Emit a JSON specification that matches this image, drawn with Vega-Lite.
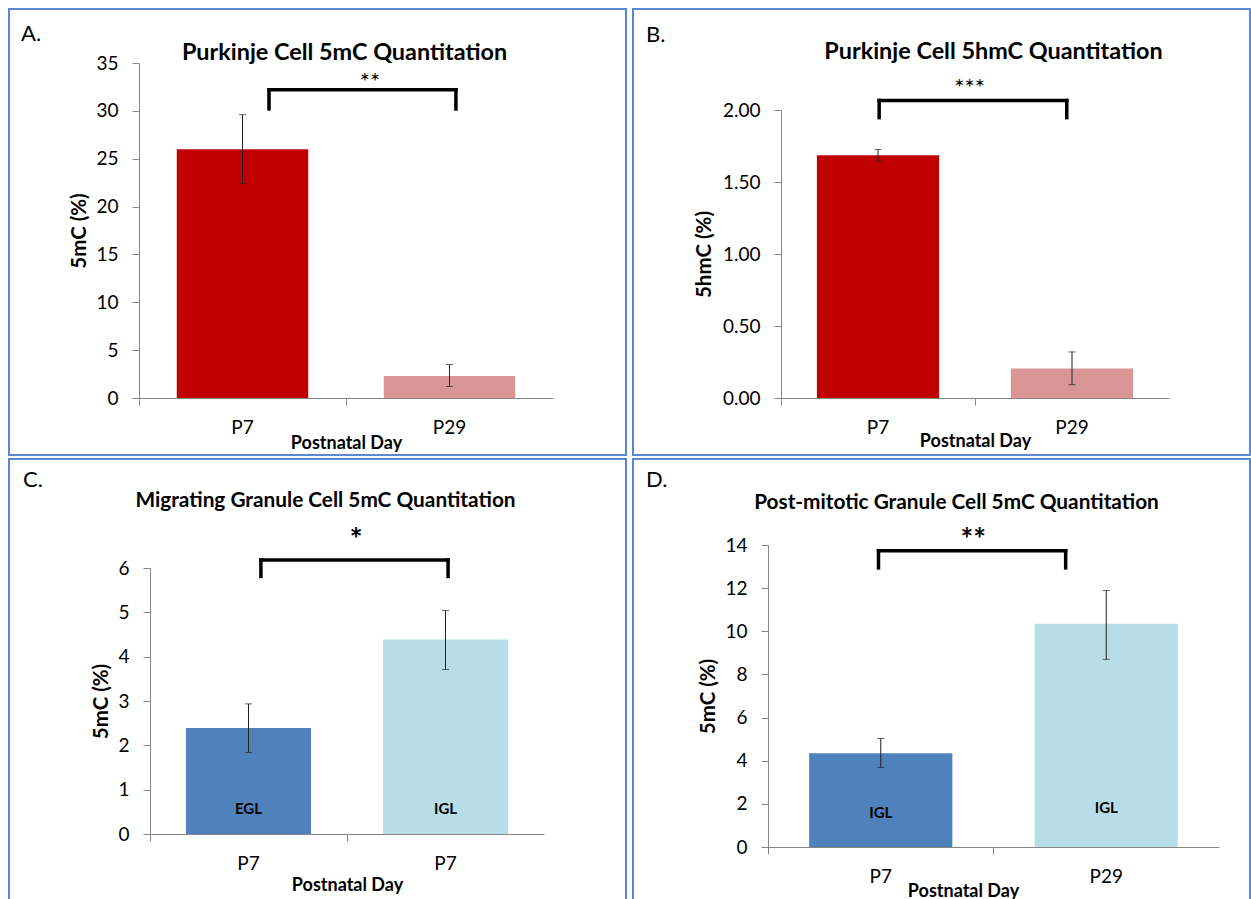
{
  "$schema": "https://vega.github.io/schema/vega-lite/v6.json",
  "padding": {"left": 8, "top": 8, "right": 0, "bottom": 0},
  "background": "white",
  "config": {
    "view": {"stroke": "#5B89CF", "strokeWidth": 2},
    "font": "Lato",
    "axis": {"domainColor": "#868686", "tickColor": "#868686", "labelFont": "Lato", "labelFontSize": 19, "labelColor": "#000", "titleFont": "Lato", "titleFontSize": 18, "titleFontWeight": "bold", "titleColor": "#000", "grid": false},
    "axisX": {"bandPosition": 0, "tickSize": 7, "labelPadding": 22, "labelBaseline": "middle", "labelAngle": 0, "titleBaseline": "middle"},
    "axisY": {"tickSize": 7, "labelPadding": 14, "titleBaseline": "middle", "titleFontSize": 20.5},
    "title": {"font": "Lato", "fontSize": 23.4, "fontWeight": "bold", "color": "#000", "anchor": "middle", "frame": "group"}
  },
  "datasets": {
    "A_bars": [{"day": "P7", "value": 26.0, "lo": 22.4, "hi": 29.6}, {"day": "P29", "value": 2.3, "lo": 1.2, "hi": 3.5}],
    "A_br": [{"a": "P7", "b": "P29", "lo": 30.2, "hi": 32.2}],
    "A_st": [{"day": "P7", "y": 32.96, "label": "**"}],
    "B_bars": [{"day": "P7", "value": 1.685, "lo": 1.647, "hi": 1.726}, {"day": "P29", "value": 0.204, "lo": 0.093, "hi": 0.32}],
    "B_br": [{"a": "P7", "b": "P29", "lo": 1.947, "hi": 2.066}],
    "B_st": [{"day": "P7", "y": 2.145, "label": "***"}],
    "C_bars": [{"layer": "EGL", "day": "P7", "value": 2.39, "lo": 1.84, "hi": 2.935, "ly": 0.57}, {"layer": "IGL", "day": "P7", "value": 4.39, "lo": 3.71, "hi": 5.04, "ly": 0.57}],
    "C_br": [{"a": "EGL", "b": "IGL", "lo": 5.81, "hi": 6.18}],
    "C_st": [{"layer": "EGL", "y": 6.6, "label": "*"}],
    "D_bars": [{"layer": "IGL", "day": "P7", "value": 4.35, "lo": 3.69, "hi": 5.03, "ly": 1.59}, {"layer": "IGL", "day": "P29", "value": 10.35, "lo": 8.7, "hi": 11.89, "ly": 1.82}],
    "D_br": [{"a": "P7", "b": "P29", "lo": 12.94, "hi": 13.73}],
    "D_st": [{"day": "P7", "y": 14.2, "label": "**"}]
  },
  "spacing": 2,
  "resolve": {"scale": {"color": "independent", "x": "independent", "y": "independent"}},
  "vconcat": [
    {
      "spacing": 5,
      "resolve": {"scale": {"color": "independent", "x": "independent", "y": "independent"}},
      "hconcat": [
        {
          "title": {"text": "A.", "anchor": "start", "fontWeight": "normal", "fontSize": 22, "dx": 12, "offset": -37.9},
          "vconcat": [
            {
              "width": 617, "height": 446,
              "title": {"text": "Purkinje Cell 5mC Quantitation", "dx": 27, "offset": -56.7},
              "layer": [
                {
                  "data": {"name": "A_bars"},
                  "mark": {"type": "bar", "width": {"band": 0.635}},
                  "encoding": {
                    "x": {"field": "day", "type": "nominal", "scale": {"domain": ["P7", "P29"], "range": [130, 544], "paddingInner": 0, "paddingOuter": 0}, "axis": {"title": "Postnatal Day", "offset": -57, "titleY": 45}},
                    "y": {"field": "value", "type": "quantitative", "scale": {"domain": [0, 35], "range": [389, 54], "nice": false}, "axis": {"title": "5mC (%)", "offset": -130, "values": [0, 5, 10, 15, 20, 25, 30, 35], "format": "d", "titleX": -60}},
                    "color": {"field": "day", "type": "nominal", "scale": {"domain": ["P7", "P29"], "range": ["#C00000", "#D99694"]}, "legend": null}
                  }
                },
                {"data": {"name": "A_bars"}, "mark": {"type": "rule", "color": "#222", "strokeWidth": 1}, "encoding": {"x": {"field": "day", "type": "nominal"}, "y": {"field": "lo", "type": "quantitative"}, "y2": {"field": "hi"}}},
                {"data": {"name": "A_bars"}, "mark": {"type": "tick", "color": "#222", "size": 7, "thickness": 1}, "encoding": {"x": {"field": "day", "type": "nominal"}, "y": {"field": "lo", "type": "quantitative"}}},
                {"data": {"name": "A_bars"}, "mark": {"type": "tick", "color": "#222", "size": 7, "thickness": 1}, "encoding": {"x": {"field": "day", "type": "nominal"}, "y": {"field": "hi", "type": "quantitative"}}},
                {"data": {"name": "A_br"}, "mark": {"type": "rule", "color": "#000", "strokeWidth": 3.5, "strokeCap": "square"}, "encoding": {"x": {"field": "a", "type": "nominal", "bandPosition": 0.628}, "y": {"field": "lo", "type": "quantitative"}, "y2": {"field": "hi"}}},
                {"data": {"name": "A_br"}, "mark": {"type": "rule", "color": "#000", "strokeWidth": 3.5, "strokeCap": "square"}, "encoding": {"x": {"field": "b", "type": "nominal", "bandPosition": 0.531}, "y": {"field": "lo", "type": "quantitative"}, "y2": {"field": "hi"}}},
                {"data": {"name": "A_br"}, "mark": {"type": "rule", "color": "#000", "strokeWidth": 3.5, "strokeCap": "square"}, "encoding": {"x": {"field": "a", "type": "nominal", "bandPosition": 0.628}, "x2": {"field": "b", "bandPosition": 0.531}, "y": {"field": "hi", "type": "quantitative"}}},
                {"data": {"name": "A_st"}, "mark": {"type": "text", "fontSize": 24, "font": "Lato", "baseline": "middle", "color": "#000"}, "encoding": {"x": {"field": "day", "type": "nominal", "bandPosition": 1.116}, "y": {"field": "y", "type": "quantitative"}, "text": {"field": "label"}}}
              ]
            }
          ]
        },
        {
          "title": {"text": "B.", "anchor": "start", "fontWeight": "normal", "fontSize": 22, "dx": 13, "offset": -38.9},
          "vconcat": [
            {
              "width": 617, "height": 446,
              "title": {"text": "Purkinje Cell 5hmC Quantitation", "dx": 52, "offset": -55.7},
              "layer": [
                {
                  "data": {"name": "B_bars"},
                  "mark": {"type": "bar", "width": {"band": 0.63}},
                  "encoding": {
                    "x": {"field": "day", "type": "nominal", "scale": {"domain": ["P7", "P29"], "range": [148, 536], "paddingInner": 0, "paddingOuter": 0}, "axis": {"title": "Postnatal Day", "offset": -57, "titleY": 43}},
                    "y": {"field": "value", "type": "quantitative", "scale": {"domain": [0, 2], "range": [389, 101], "nice": false}, "axis": {"title": "5hmC (%)", "offset": -148, "values": [0, 0.5, 1, 1.5, 2], "format": ".2f", "titleX": -76.5}},
                    "color": {"field": "day", "type": "nominal", "scale": {"domain": ["P7", "P29"], "range": ["#C00000", "#D99694"]}, "legend": null}
                  }
                },
                {"data": {"name": "B_bars"}, "mark": {"type": "rule", "color": "#222", "strokeWidth": 1}, "encoding": {"x": {"field": "day", "type": "nominal"}, "y": {"field": "lo", "type": "quantitative"}, "y2": {"field": "hi"}}},
                {"data": {"name": "B_bars"}, "mark": {"type": "tick", "color": "#222", "size": 7, "thickness": 1}, "encoding": {"x": {"field": "day", "type": "nominal"}, "y": {"field": "lo", "type": "quantitative"}}},
                {"data": {"name": "B_bars"}, "mark": {"type": "tick", "color": "#222", "size": 7, "thickness": 1}, "encoding": {"x": {"field": "day", "type": "nominal"}, "y": {"field": "hi", "type": "quantitative"}}},
                {"data": {"name": "B_br"}, "mark": {"type": "rule", "color": "#000", "strokeWidth": 3.5, "strokeCap": "square"}, "encoding": {"x": {"field": "a", "type": "nominal", "bandPosition": 0.506}, "y": {"field": "lo", "type": "quantitative"}, "y2": {"field": "hi"}}},
                {"data": {"name": "B_br"}, "mark": {"type": "rule", "color": "#000", "strokeWidth": 3.5, "strokeCap": "square"}, "encoding": {"x": {"field": "b", "type": "nominal", "bandPosition": 0.473}, "y": {"field": "lo", "type": "quantitative"}, "y2": {"field": "hi"}}},
                {"data": {"name": "B_br"}, "mark": {"type": "rule", "color": "#000", "strokeWidth": 3.5, "strokeCap": "square"}, "encoding": {"x": {"field": "a", "type": "nominal", "bandPosition": 0.506}, "x2": {"field": "b", "bandPosition": 0.473}, "y": {"field": "hi", "type": "quantitative"}}},
                {"data": {"name": "B_st"}, "mark": {"type": "text", "fontSize": 24, "font": "Lato", "baseline": "middle", "color": "#000"}, "encoding": {"x": {"field": "day", "type": "nominal", "bandPosition": 0.972}, "y": {"field": "y", "type": "quantitative"}, "text": {"field": "label"}}}
              ]
            }
          ]
        }
      ]
    },
    {
      "spacing": 5,
      "resolve": {"scale": {"color": "independent", "x": "independent", "y": "independent"}},
      "hconcat": [
        {
          "title": {"text": "C.", "anchor": "start", "fontWeight": "normal", "fontSize": 22, "dx": 14, "offset": -33.9},
          "vconcat": [
            {
              "width": 617, "height": 442,
              "title": {"text": "Migrating Granule Cell 5mC Quantitation", "fontSize": 20.8, "dx": 8, "offset": -52.5},
              "layer": [
                {
                  "data": {"name": "C_bars"},
                  "mark": {"type": "bar", "width": {"band": 0.635}},
                  "encoding": {
                    "x": {"field": "layer", "type": "nominal", "scale": {"domain": ["EGL", "IGL"], "range": [141, 535], "paddingInner": 0, "paddingOuter": 0}, "axis": {"title": "Postnatal Day", "offset": -67, "titleY": 51, "labelExpr": "'P7'"}},
                    "y": {"field": "value", "type": "quantitative", "scale": {"domain": [0, 6], "range": [375, 109], "nice": false}, "axis": {"title": "5mC (%)", "offset": -141, "values": [0, 1, 2, 3, 4, 5, 6], "format": "d", "titleX": -49}},
                    "color": {"field": "layer", "type": "nominal", "scale": {"domain": ["EGL", "IGL"], "range": ["#4F81BD", "#B7DEE8"]}, "legend": null}
                  }
                },
                {"data": {"name": "C_bars"}, "mark": {"type": "rule", "color": "#222", "strokeWidth": 1}, "encoding": {"x": {"field": "layer", "type": "nominal"}, "y": {"field": "lo", "type": "quantitative"}, "y2": {"field": "hi"}}},
                {"data": {"name": "C_bars"}, "mark": {"type": "tick", "color": "#222", "size": 7, "thickness": 1}, "encoding": {"x": {"field": "layer", "type": "nominal"}, "y": {"field": "lo", "type": "quantitative"}}},
                {"data": {"name": "C_bars"}, "mark": {"type": "tick", "color": "#222", "size": 7, "thickness": 1}, "encoding": {"x": {"field": "layer", "type": "nominal"}, "y": {"field": "hi", "type": "quantitative"}}},
                {"data": {"name": "C_bars"}, "mark": {"type": "text", "fontSize": 15, "fontWeight": "bold", "font": "Lato", "baseline": "middle", "color": "#000"}, "encoding": {"x": {"field": "layer", "type": "nominal"}, "y": {"field": "ly", "type": "quantitative"}, "text": {"field": "layer"}}},
                {"data": {"name": "C_br"}, "mark": {"type": "rule", "color": "#000", "strokeWidth": 3.5, "strokeCap": "square"}, "encoding": {"x": {"field": "a", "type": "nominal", "bandPosition": 0.563}, "y": {"field": "lo", "type": "quantitative"}, "y2": {"field": "hi"}}},
                {"data": {"name": "C_br"}, "mark": {"type": "rule", "color": "#000", "strokeWidth": 3.5, "strokeCap": "square"}, "encoding": {"x": {"field": "b", "type": "nominal", "bandPosition": 0.513}, "y": {"field": "lo", "type": "quantitative"}, "y2": {"field": "hi"}}},
                {"data": {"name": "C_br"}, "mark": {"type": "rule", "color": "#000", "strokeWidth": 3.5, "strokeCap": "square"}, "encoding": {"x": {"field": "a", "type": "nominal", "bandPosition": 0.563}, "x2": {"field": "b", "bandPosition": 0.513}, "y": {"field": "hi", "type": "quantitative"}}},
                {"data": {"name": "C_st"}, "mark": {"type": "text", "fontSize": 31, "fontWeight": "bold", "font": "Lato", "baseline": "middle", "color": "#000"}, "encoding": {"x": {"field": "layer", "type": "nominal", "bandPosition": 1.046}, "y": {"field": "y", "type": "quantitative"}, "text": {"field": "label"}}}
              ]
            }
          ]
        },
        {
          "title": {"text": "D.", "anchor": "start", "fontWeight": "normal", "fontSize": 22, "dx": 13, "offset": -34},
          "vconcat": [
            {
              "width": 617, "height": 442,
              "title": {"text": "Post-mitotic Granule Cell 5mC Quantitation", "fontSize": 20.8, "dx": 15, "offset": -55},
              "layer": [
                {
                  "data": {"name": "D_bars"},
                  "mark": {"type": "bar", "width": {"band": 0.635}},
                  "encoding": {
                    "x": {"field": "day", "type": "nominal", "scale": {"domain": ["P7", "P29"], "range": [135, 586], "paddingInner": 0, "paddingOuter": 0}, "axis": {"title": "Postnatal Day", "offset": -54, "titleY": 44, "titleX": 330}},
                    "y": {"field": "value", "type": "quantitative", "scale": {"domain": [0, 14], "range": [388, 86], "nice": false}, "axis": {"title": "5mC (%)", "offset": -135, "values": [0, 2, 4, 6, 8, 10, 12, 14], "format": "d", "titleX": -60}},
                    "color": {"field": "day", "type": "nominal", "scale": {"domain": ["P7", "P29"], "range": ["#4F81BD", "#B7DEE8"]}, "legend": null}
                  }
                },
                {"data": {"name": "D_bars"}, "mark": {"type": "rule", "color": "#222", "strokeWidth": 1}, "encoding": {"x": {"field": "day", "type": "nominal"}, "y": {"field": "lo", "type": "quantitative"}, "y2": {"field": "hi"}}},
                {"data": {"name": "D_bars"}, "mark": {"type": "tick", "color": "#222", "size": 7, "thickness": 1}, "encoding": {"x": {"field": "day", "type": "nominal"}, "y": {"field": "lo", "type": "quantitative"}}},
                {"data": {"name": "D_bars"}, "mark": {"type": "tick", "color": "#222", "size": 7, "thickness": 1}, "encoding": {"x": {"field": "day", "type": "nominal"}, "y": {"field": "hi", "type": "quantitative"}}},
                {"data": {"name": "D_bars"}, "mark": {"type": "text", "fontSize": 15, "fontWeight": "bold", "font": "Lato", "baseline": "middle", "color": "#000"}, "encoding": {"x": {"field": "day", "type": "nominal"}, "y": {"field": "ly", "type": "quantitative"}, "text": {"field": "layer"}}},
                {"data": {"name": "D_br"}, "mark": {"type": "rule", "color": "#000", "strokeWidth": 3.5, "strokeCap": "square"}, "encoding": {"x": {"field": "a", "type": "nominal", "bandPosition": 0.49}, "y": {"field": "lo", "type": "quantitative"}, "y2": {"field": "hi"}}},
                {"data": {"name": "D_br"}, "mark": {"type": "rule", "color": "#000", "strokeWidth": 3.5, "strokeCap": "square"}, "encoding": {"x": {"field": "b", "type": "nominal", "bandPosition": 0.32}, "y": {"field": "lo", "type": "quantitative"}, "y2": {"field": "hi"}}},
                {"data": {"name": "D_br"}, "mark": {"type": "rule", "color": "#000", "strokeWidth": 3.5, "strokeCap": "square"}, "encoding": {"x": {"field": "a", "type": "nominal", "bandPosition": 0.49}, "x2": {"field": "b", "bandPosition": 0.32}, "y": {"field": "hi", "type": "quantitative"}}},
                {"data": {"name": "D_st"}, "mark": {"type": "text", "fontSize": 30, "fontWeight": "bold", "font": "Lato", "baseline": "middle", "color": "#000"}, "encoding": {"x": {"field": "day", "type": "nominal", "bandPosition": 0.91}, "y": {"field": "y", "type": "quantitative"}, "text": {"field": "label"}}}
              ]
            }
          ]
        }
      ]
    }
  ]
}
